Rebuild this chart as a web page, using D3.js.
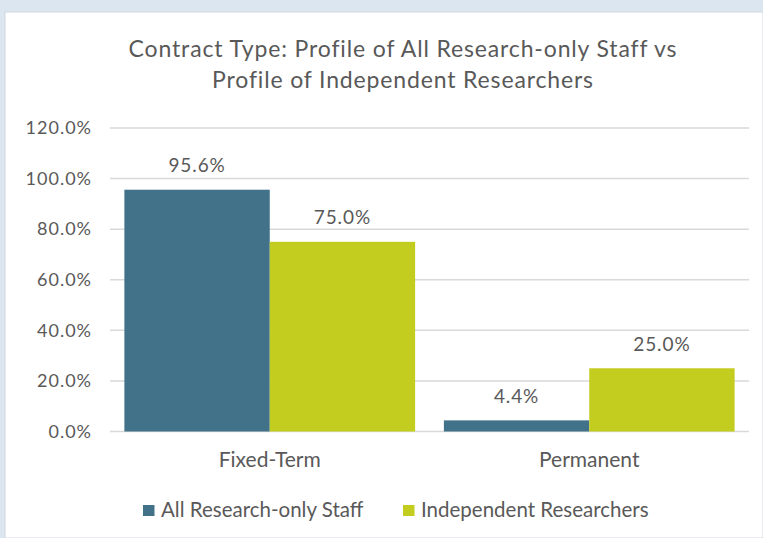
<!DOCTYPE html>
<html>
<head>
<meta charset="utf-8">
<script src="https://cdn.jsdelivr.net/npm/d3@7/dist/d3.min.js"></script>
<style>
  body { margin: 0; background: #dce6f0; }
  svg { display: block; font-family: Lato, "Open Sans", sans-serif; }
</style>
</head>
<body>
<svg id="graph" width="763" height="538"></svg>
<script>
// données
var categories = ["Fixed-Term", "Permanent"];
var series = ["All Research-only Staff", "Independent Researchers"];
var allStaff = [95.6, 4.4];
var independent = [75.0, 25.0];
var yTicks = [0, 20, 40, 60, 80, 100, 120];
var couleurs = ["#41728a", "#c3cd20"];

var svg = d3.select("#graph");

// fond blanc du graphique
svg.append("rect").attr("x", 5).attr("y", 12).attr("width", 758).attr("height", 526)
  .attr("fill", "white").attr("stroke", "#d0d8e0").attr("stroke-width", 1);

// titre
var titre = svg.append("text").attr("text-anchor", "middle").attr("fill", "#595959")
  .attr("font-size", 23).attr("letter-spacing", 0.85);
titre.append("tspan").attr("x", 403).attr("y", 57).text("Contract Type: Profile of All Research-only Staff vs");
titre.append("tspan").attr("x", 403).attr("y", 88).text("Profile of Independent Researchers");

// échelles
var scaleX = d3.scaleBand().domain(categories).range([110, 749]).paddingInner(0.09).paddingOuter(0.045);
var scaleSerie = d3.scaleBand().domain(series).range([0, scaleX.bandwidth()]);
var scaleY = d3.scaleLinear().domain([0, 120]).range([431.5, 128]);

// grille
svg.append("g").selectAll("line").data(yTicks).join("line")
  .attr("x1", 110).attr("x2", 749)
  .attr("y1", function(d) { return scaleY(d); })
  .attr("y2", function(d) { return scaleY(d); })
  .attr("stroke", "#d9d9d9").attr("stroke-width", 1.5);

// axe Y
var yAxis = d3.axisLeft(scaleY).tickValues(yTicks).tickSize(0).tickPadding(0)
  .tickFormat(function(d) { return d.toFixed(1) + "%"; });
var gy = svg.append("g").attr("transform", "translate(92,0)").call(yAxis);
gy.select(".domain").remove();
gy.selectAll("text").attr("fill", "#595959").attr("font-size", 18)
  .attr("letter-spacing", 1).attr("font-family", "Lato, sans-serif");

// barres
var donnees = [];
for (var i = 0; i < categories.length; i++) {
  donnees.push({cat: categories[i], serie: series[0], val: allStaff[i], c: couleurs[0]});
  donnees.push({cat: categories[i], serie: series[1], val: independent[i], c: couleurs[1]});
}
var gBars = svg.append("g");
gBars.selectAll("rect").data(donnees).join("rect")
  .attr("x", function(d) { return scaleX(d.cat) + scaleSerie(d.serie); })
  .attr("width", scaleSerie.bandwidth())
  .attr("y", function(d) { return scaleY(d.val); })
  .attr("height", function(d) { return scaleY(0) - scaleY(d.val); })
  .attr("fill", function(d) { return d.c; });

// étiquettes des valeurs
gBars.selectAll("text").data(donnees).join("text")
  .attr("x", function(d) { return scaleX(d.cat) + scaleSerie(d.serie) + scaleSerie.bandwidth() / 2; })
  .attr("y", function(d) { return scaleY(d.val) - 17.5; })
  .attr("text-anchor", "middle").attr("fill", "#595959").attr("font-size", 19).attr("letter-spacing", 0.9)
  .text(function(d) { return d.val.toFixed(1) + "%"; });

// axe X
var xAxis = d3.axisBottom(scaleX).tickSize(0).tickPadding(0);
var gx = svg.append("g").call(xAxis);
gx.select(".domain").remove();
gx.selectAll("text").attr("y", 467).attr("dy", 0).attr("fill", "#595959")
  .attr("font-size", 21).attr("font-family", "Lato, sans-serif");

// légende
var legX = [143, 403];
var leg = svg.append("g").selectAll("g").data(series).join("g")
  .attr("transform", function(d, i) { return "translate(" + legX[i] + ",505)"; });
leg.append("rect").attr("width", 11.5).attr("height", 11)
  .attr("fill", function(d, i) { return couleurs[i]; });
leg.append("text").attr("x", 18).attr("y", 11.5).attr("fill", "#595959").attr("font-size", 20.5)
  .text(function(d) { return d; });
</script>
</body>
</html>
